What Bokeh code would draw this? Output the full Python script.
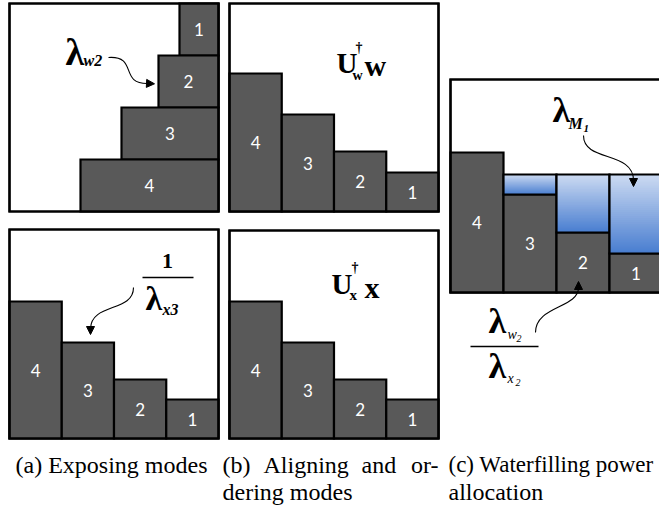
from bokeh.plotting import figure
from bokeh.models import Range1d, Arrow, NormalHead
from bokeh.core.properties import value
from bokeh.embed import file_html
from bokeh.resources import INLINE

# ---------------- data ----------------
modes = ["1", "2", "3", "4"]
w_gains = [39, 60, 97, 138]        # channel gains of the w modes, panels (a) top / (b) top
x_gains = [39, 59, 96, 137]        # 1/lambda_x per mode, bottom panels
floor_c = [39, 60, 98, 140]        # lambda_w / lambda_x per mode, panel (c)
water_level = 118                  # waterfilling level lambda_M

caption_a = ["(a) Exposing modes"]
caption_b = [["(b)", "Aligning", "and", "or-"], ["dering modes"]]
caption_c = ["(c) Waterfilling power", "allocation"]

# ---------------- layout ----------------
W, H = 659, 510
A_TOP = dict(l=9, t=3, r=218, b=211)
B_TOP = dict(l=229, t=3, r=438, b=211)
A_BOT = dict(l=9, t=229, r=218, b=438)
B_BOT = dict(l=229, t=230, r=438, b=438)
C_PAN = dict(l=450, t=79, r=662, b=292)

BAR_FILL = "#595959"
LW = 2.2
SERIF = "Liberation Serif"

p = figure(width=W, height=H, x_range=Range1d(0, W), y_range=Range1d(H, 0),
           output_backend="svg", toolbar_location=None, min_border=0,
           x_axis_location=None, y_axis_location=None)
p.grid.visible = False
p.outline_line_color = None
p.background_fill_color = "white"
p.border_fill_color = "white"


def txt(x, y, s, size, font=SERIF, style="normal", align="left", color="black"):
    p.text(x=[x], y=[y], text=[s], text_font=value(font),
           text_font_size=f"{size}px", text_font_style=style,
           text_align=align, text_baseline="middle", text_color=color)


def frame(pan, fill=True):
    p.quad(left=[pan["l"]], right=[pan["r"]], top=[pan["t"]], bottom=[pan["b"]],
           fill_color="white" if fill else None, line_color="black",
           line_width=LW, line_join="miter")


def bars(left, right, top, bottom, labels):
    p.quad(left=left, right=right, top=top, bottom=bottom, fill_color=BAR_FILL,
           line_color="black", line_width=LW, line_join="miter")
    cx = [(a + b) / 2 for a, b in zip(left, right)]
    cy = [(a + b) / 2 for a, b in zip(top, bottom)]
    p.text(x=cx, y=cy, text=labels, text_font=value("Lato"), text_font_size="17px",
           text_color="white", text_align="center", text_baseline="middle")


def vertical_bars(pan, gains):
    order = [3, 2, 1, 0]               # strongest mode on the left
    cw = (pan["r"] - pan["l"]) / 4
    left = [pan["l"] + j * cw for j in range(4)]
    right = [v + cw for v in left]
    top = [pan["b"] - gains[i] for i in order]
    bottom = [pan["b"]] * 4
    bars(left, right, top, bottom, [modes[i] for i in order])
    return left, right, top


def curve(x0, y0, cx0, cy0, cx1, cy1, x1, y1, hx, hy):
    p.bezier(x0=[x0], y0=[y0], x1=[x1], y1=[y1], cx0=[cx0], cy0=[cy0],
             cx1=[cx1], cy1=[cy1], line_color="black", line_width=1.1)
    p.add_layout(Arrow(x_start=x1, y_start=y1, x_end=hx, y_end=hy, line_alpha=0,
                       end=NormalHead(size=8, fill_color="black",
                                      line_color="black", line_width=1)))


# ---------- (a) top: modes exposed as horizontal bars ----------
frame(A_TOP)
rh = (A_TOP["b"] - A_TOP["t"]) / 4
top = [A_TOP["t"] + i * rh for i in range(4)]
bottom = [v + rh for v in top]
right = [A_TOP["r"]] * 4
left = [A_TOP["r"] - g for g in w_gains]
bars(left, right, top, bottom, modes)
frame(A_TOP, fill=False)
txt(65, 51, "λ", 38, style="bold")
txt(83, 60, "w2", 16, style="bold italic")
curve(108, 57, 138, 55, 118, 84, 148, 83, 154, 83.3)

# ---------- (b) top: aligned and ordered w modes ----------
frame(B_TOP)
vertical_bars(B_TOP, w_gains)
frame(B_TOP, fill=False)
txt(336, 62, "U", 29, style="bold")
txt(352, 75, "w", 14, style="bold")
txt(355, 47, "†", 14, style="bold")
txt(364, 65, "w", 30, style="bold")

# ---------- (a) bottom: inverse x modes ----------
frame(A_BOT)
vertical_bars(A_BOT, x_gains)
frame(A_BOT, fill=False)
txt(167, 260, "1", 22, style="bold", align="center")
p.segment(x0=[142], y0=[277], x1=[193], y1=[277], line_color="black", line_width=1.5)
txt(145, 298, "λ", 34, style="bold")
txt(162, 309, "x3", 16, style="bold italic")
curve(133, 287, 133, 312, 91, 302, 90, 328, 90, 334)

# ---------- (b) bottom: aligned and ordered x modes ----------
frame(B_BOT)
vertical_bars(B_BOT, x_gains)
frame(B_BOT, fill=False)
txt(331, 283, "U", 29, style="bold")
txt(349, 294, "x", 15, style="bold")
txt(351, 267, "†", 14, style="bold")
txt(364, 287, "x", 30, style="bold")

# ---------- (c) waterfilling ----------
frame(C_PAN)
lft, rgt, tops = vertical_bars(C_PAN, floor_c)
level_y = C_PAN["b"] - water_level
top_rgb = (205, 219, 242)
bot_rgb = (72, 125, 208)
N = 40
for L, R, T in zip(lft, rgt, tops):
    if T <= level_y:
        continue
    depth = T - level_y
    ys = [level_y + depth * k / N for k in range(N)]
    cols = []
    for k in range(N):
        f = (k + 0.5) / N
        c = tuple(int(round(a + (b - a) * f)) for a, b in zip(top_rgb, bot_rgb))
        cols.append("#%02x%02x%02x" % c)
    # each band runs to the cell floor; later bands paint over the lower part
    p.quad(left=[L] * N, right=[R] * N, top=ys, bottom=[T] * N,
           fill_color=cols, line_color=None)
    p.quad(left=[L], right=[R], top=[level_y], bottom=[T], fill_color=None,
           line_color="black", line_width=LW, line_join="miter")
frame(C_PAN, fill=False)

txt(552, 109, "λ", 36, style="bold")
txt(568, 123, "M", 16, style="bold italic")
txt(583, 128, "1", 11, style="bold italic")
curve(583, 135, 583, 162, 633, 150, 633, 180, 633, 186)

txt(488, 320, "λ", 36, style="bold")
txt(507, 334, "w", 14, style="italic")
txt(516, 338, "2", 10, style="italic")
p.segment(x0=[470], y0=[346], x1=[538], y1=[346], line_color="black", line_width=1.3)
txt(488, 365, "λ", 36, style="bold")
txt(507, 378, "x", 14, style="italic")
txt(515, 382, "2", 10, style="italic")
curve(535, 332, 535, 305, 578, 308, 578, 287, 578, 281)

# ---------- captions ----------
CAP_SIZE = 24
L1, L2 = 464, 491

txt(15, L1, caption_a[0], CAP_SIZE)
for w, x, a in zip(caption_b[0], [222, 263, 361, 438], ["left", "left", "left", "right"]):
    txt(x, L1, w, CAP_SIZE, align=a)
txt(222, L2, caption_b[1][0], CAP_SIZE)
txt(448, L1, caption_c[0], 23)
txt(448, L2, caption_c[1], CAP_SIZE)

open("out.html", "w").write(file_html(p, INLINE))
